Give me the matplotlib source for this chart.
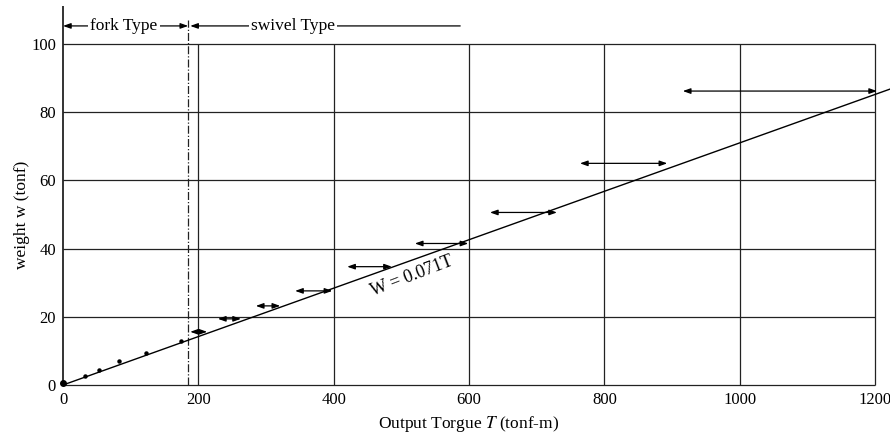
import numpy as np
import matplotlib.pyplot as plt

plt.rcParams['font.family'] = ['Liberation Serif', 'DejaVu Serif']
plt.rcParams['mathtext.fontset'] = 'stix'

# measured points near the origin (fork type)
small_T = [0, 32, 53, 83, 123, 174]
small_W = [0.5, 2.6, 4.4, 7.1, 9.4, 12.9]

# torque ranges for each weight class
range_lo = [188, 229, 285, 343, 420, 520, 631, 764, 916]
range_hi = [213, 263, 321, 398, 486, 599, 730, 893, 1203]
range_W = [15.6, 19.4, 23.2, 27.6, 34.7, 41.5, 50.6, 65.0, 86.2]

# fitted line W = 0.071 T
coef = 0.071
fit_T = [0, 1222]

x_ticks = [0, 200, 400, 600, 800, 1000, 1200]
y_ticks = [0, 20, 40, 60, 80, 100]
split_T = 185      # fork / swivel boundary
swivel_end = 587

fig = plt.figure(figsize=(8.9, 4.36), dpi=100)
ax = fig.add_axes([63 / 890, 51 / 436, 812 / 890, 341 / 436])
ax.set_xlim(0, 1200)
ax.set_ylim(0, 100)
for s in ax.spines.values():
    s.set_visible(False)

# grid
ax.hlines(y_ticks, 0, 1200, color='#222222', lw=0.9, clip_on=False)
ax.vlines(x_ticks[1:], 0, 100, color='#222222', lw=0.9, clip_on=False)
ax.vlines(0, 0, 111, color='#111111', lw=1.2, clip_on=False)
ax.vlines(split_T, 0, 107, color='#222222', lw=0.9, linestyles='dashdot', clip_on=False)

# fit line
fit_T = np.array(fit_T)
ax.plot(fit_T, coef * fit_T, color='black', lw=1.0, clip_on=False)
ax.text(516, 32.0, 'W = 0.071T', rotation=21, ha='center', va='center', fontsize=13)

# points
ax.plot(small_T, small_W, 'o', color='black', ms=2.2, clip_on=False)
ax.plot([0], [0.5], 'o', color='black', ms=4, clip_on=False)

# range arrows
ap = dict(arrowstyle='<|-|>,head_length=0.45,head_width=0.16', color='black',
          lw=0.9, shrinkA=0, shrinkB=0)
for lo, hi, w in zip(range_lo, range_hi, range_W):
    ax.annotate('', xy=(hi, w), xytext=(lo, w), arrowprops=ap, annotation_clip=False)

# type annotations on top
ytop = 105.3
ax.annotate('', xy=(split_T, ytop), xytext=(0, ytop), arrowprops=ap, annotation_clip=False)
ax.annotate('', xy=(split_T + 3, ytop), xytext=(swivel_end, ytop),
            arrowprops=dict(arrowstyle='-|>,head_length=0.45,head_width=0.16', color='black',
                            lw=0.9, shrinkA=0, shrinkB=0), annotation_clip=False)
ax.text(90, ytop, 'fork Type', ha='center', va='center', fontsize=12.5,
        bbox=dict(facecolor='white', edgecolor='none', pad=1.5))
ax.text(340, ytop, 'swivel Type', ha='center', va='center', fontsize=12.5,
        bbox=dict(facecolor='white', edgecolor='none', pad=1.5))

ax.set_xticks(x_ticks)
ax.set_yticks(y_ticks)
ax.tick_params(length=0, labelsize=12, pad=5)
ax.set_xlabel('Output Torgue $T$ (tonf-m)', fontsize=12.5, labelpad=4)
ax.set_ylabel('weight w (tonf)', fontsize=12.5, labelpad=1)

fig.savefig('out.png', dpi=100)
